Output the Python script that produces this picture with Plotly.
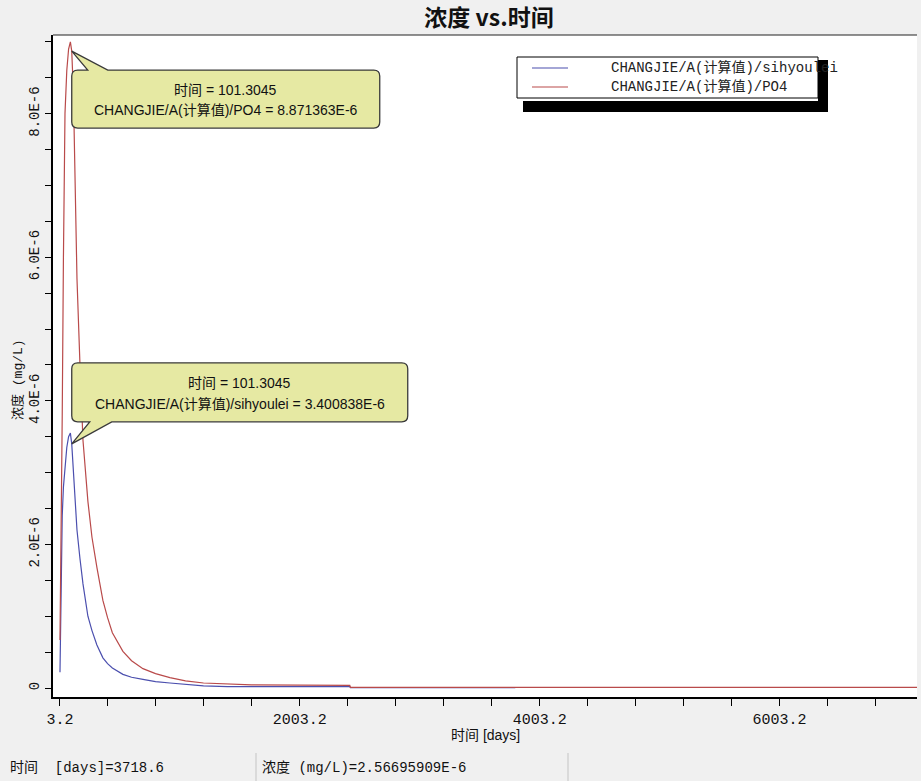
import plotly.graph_objects as go

# ---- data -------------------------------------------------------------
time_days = [3.2, 12, 22, 32, 45, 60, 75, 90, 101.3045, 115, 130, 145, 170, 195,
             236, 270, 311, 361, 400, 440, 528, 600, 695, 800, 920, 1050, 1200,
             1400, 1600, 2000, 2420, 2425, 3000, 3800, 4500, 5500, 6500, 7150]

po4 = [0.67e-6, 1.8e-6, 3.8e-6, 6.0e-6, 8.0e-6, 8.6e-6, 8.9e-6, 9.0e-6, 8.871363e-6,
       8.3e-6, 7.0e-6, 5.7e-6, 4.5e-6, 3.45e-6, 2.6e-6, 2.1e-6, 1.68e-6, 1.22e-6,
       0.98e-6, 0.77e-6, 0.51e-6, 0.38e-6, 0.27e-6, 0.2e-6, 0.145e-6, 0.1e-6,
       0.07e-6, 0.055e-6, 0.045e-6, 0.04e-6, 0.038e-6, 0.008e-6, 0.008e-6,
       0.008e-6, 0.008e-6, 0.008e-6, 0.008e-6, 0.008e-6]

sihyoulei = [0.22e-6, 1.5e-6, 2.4e-6, 2.8e-6, 3.1e-6, 3.35e-6, 3.5e-6, 3.55e-6, 3.400838e-6,
             3.0e-6, 2.5e-6, 2.2e-6, 1.8e-6, 1.45e-6, 1.0e-6, 0.8e-6, 0.6e-6, 0.42e-6,
             0.34e-6, 0.28e-6, 0.19e-6, 0.15e-6, 0.12e-6, 0.09e-6, 0.07e-6, 0.05e-6,
             0.03e-6, 0.02e-6, 0.02e-6, 0.02e-6, 0.02e-6, 0.004e-6, 0.004e-6,
             0.004e-6, None, None, None, None]

series_names = ["CHANGJIE/A(计算值)/sihyoulei", "CHANGJIE/A(计算值)/PO4"]
series_colors = ["#4b4fae", "#b94a4a"]

x_tick_vals = [3.2, 2003.2, 4003.2, 6003.2]
x_tick_text = ["3.2", "2003.2", "4003.2", "6003.2"]
y_tick_vals = [0, 2e-6, 4e-6, 6e-6, 8e-6]
y_tick_text = ["0", "2.0E-6", "4.0E-6", "6.0E-6", "8.0E-6"]

cursor_time = 101.3045
status_time = "时间  [days]=3718.6"
status_conc = "浓度 (mg/L)=2.56695909E-6"

# ---- geometry helpers (figure pixels -> paper fractions) ---------------
W, H = 921, 781
L, R, T, B = 53, 4, 35, 84
PW, PH = W - L - R, H - T - B


def px(x):
    return (x - L) / PW


def py(y):
    return (H - B - y) / PH


def fmt_sci(v):
    m, e = f"{v:.6E}".split("E")
    return f"{m}E{int(e)}"


MONO = "Liberation Mono, Noto Sans CJK SC, monospace"
SANS = "Liberation Sans, Noto Sans CJK SC, sans-serif"

fig = go.Figure()
for name, ys, col in [(series_names[0], sihyoulei, series_colors[0]),
                      (series_names[1], po4, series_colors[1])]:
    fig.add_trace(go.Scatter(x=time_days, y=ys, name=name, mode="lines",
                             line=dict(color=col, width=1.2),
                             connectgaps=False, showlegend=False))

shapes = []
annotations = []

# frame top edge
shapes.append(dict(type="line", xref="paper", yref="paper", x0=0, x1=1, y0=1, y1=1,
                   line=dict(color="#222", width=1.2)))

# legend block with drop shadow
shapes.append(dict(type="rect", xref="paper", yref="paper", x0=px(517), x1=px(818),
                   y0=py(98), y1=py(57), fillcolor="white", line=dict(color="black", width=1)))
for i, (name, col) in enumerate(zip(series_names, series_colors)):
    yy = 68 + 19 * i
    shapes.append(dict(type="line", xref="paper", yref="paper", x0=px(532), x1=px(568),
                       y0=py(yy), y1=py(yy), line=dict(color=col, width=1.2)))
    annotations.append(dict(text=name, xref="paper", yref="paper", x=px(609), y=py(yy),
                            xanchor="left", yanchor="middle", showarrow=False,
                            font=dict(family=MONO, size=14, color="#222")))
shapes.append(dict(type="rect", xref="paper", yref="paper", x0=px(818), x1=px(828),
                   y0=py(112), y1=py(60), fillcolor="black", line=dict(width=0),
                   layer="above"))
shapes.append(dict(type="rect", xref="paper", yref="paper", x0=px(523), x1=px(828),
                   y0=py(112), y1=py(101), fillcolor="black", line=dict(width=0),
                   layer="above"))


# value callouts anchored on the curve points at the cursor time
def callout_below(x0, x1, ytop, ybot, b0, b1, r=6):
    return (f"M0,0 L{b1},{ytop} L{x1-r},{ytop} Q{x1},{ytop} {x1},{ytop-r} "
            f"L{x1},{ybot+r} Q{x1},{ybot} {x1-r},{ybot} L{x0+r},{ybot} "
            f"Q{x0},{ybot} {x0},{ybot+r} L{x0},{ytop-r} Q{x0},{ytop} {x0+r},{ytop} "
            f"L{b0},{ytop} Z")


def callout_above(x0, x1, ytop, ybot, b0, b1, r=6):
    return (f"M0,0 L{b0},{ybot} L{x0+r},{ybot} Q{x0},{ybot} {x0},{ybot+r} "
            f"L{x0},{ytop-r} Q{x0},{ytop} {x0+r},{ytop} L{x1-r},{ytop} "
            f"Q{x1},{ytop} {x1},{ytop-r} L{x1},{ybot+r} Q{x1},{ybot} {x1-r},{ybot} "
            f"L{b1},{ybot} Z")


idx = time_days.index(cursor_time)
callouts = [
    (series_names[1], po4[idx], callout_below(0, 308, -19, -77, 16, 36), 154, (-39, -59)),
    (series_names[0], sihyoulei[idx], callout_above(0, 336, 81, 22, 18, 40), 168, (61, 40)),
]
for name, val, path, cx, (y1s, y2s) in callouts:
    shapes.append(dict(type="path", xref="x", yref="y", xsizemode="pixel",
                       ysizemode="pixel", xanchor=cursor_time, yanchor=val, path=path,
                       fillcolor="#e6e9a3", line=dict(color="#3a3a3a", width=1.3),
                       layer="above"))
    for txt, ys in [(f"时间 = {cursor_time}", y1s),
                    (f"{name} = {fmt_sci(val)}", y2s)]:
        annotations.append(dict(text=txt, xref="x", yref="y", x=cursor_time, y=val,
                                xshift=cx, yshift=ys, xanchor="center", yanchor="middle",
                                showarrow=False, font=dict(family=SANS, size=14, color="#111")))

# axis titles
annotations.append(dict(text="时间 [days]", xref="paper", yref="paper", x=px(485), y=py(735),
                        xanchor="center", yanchor="middle", showarrow=False,
                        font=dict(family=SANS, size=14, color="#111")))
annotations.append(dict(text="浓度 (mg/L)", xref="paper", yref="paper", x=px(18), y=py(380),
                        xanchor="center", yanchor="middle", textangle=-90, showarrow=False,
                        font=dict(family=MONO, size=13, color="#111")))

# status bar
annotations.append(dict(text=status_time, xref="paper", yref="paper", x=px(8), y=py(768),
                        xanchor="left", yanchor="middle", showarrow=False,
                        font=dict(family=MONO, size=14, color="#111")))
annotations.append(dict(text=status_conc, xref="paper", yref="paper", x=px(260), y=py(768),
                        xanchor="left", yanchor="middle", showarrow=False,
                        font=dict(family=MONO, size=14, color="#111")))
for sx in (256, 568):
    shapes.append(dict(type="line", xref="paper", yref="paper", x0=px(sx), x1=px(sx),
                       y0=py(781), y1=py(753), line=dict(color="#c4c4c4", width=1)))

fig.update_layout(
    width=W, height=H,
    margin=dict(l=L, r=R, t=T, b=B, autoexpand=False),
    paper_bgcolor="#f0f0f0", plot_bgcolor="white",
    title=dict(text="<b>浓度 vs.时间</b>", x=px(489), xref="paper", xanchor="center",
               y=1 - 18 / H, yanchor="middle",
               font=dict(family="Noto Sans CJK SC", size=23, color="#111")),
    xaxis=dict(range=[-55, 7150], tickmode="array", tickvals=x_tick_vals,
               ticktext=x_tick_text, ticks="outside", ticklen=7, tickwidth=1,
               tickcolor="black", showline=True, linewidth=2, linecolor="black",
               showgrid=False, zeroline=False,
               tickfont=dict(family=MONO, size=15, color="#111"),
               minor=dict(tick0=3.2, dtick=400, ticks="outside", ticklen=7,
                          tickwidth=1, tickcolor="black", showgrid=False)),
    yaxis=dict(range=[-0.125e-6, 9.095e-6], tickmode="array", tickvals=y_tick_vals,
               ticktext=y_tick_text, tickangle=-90, ticks="outside", ticklen=6,
               tickwidth=1, tickcolor="black", showline=True, linewidth=2,
               linecolor="black", showgrid=False, zeroline=False,
               tickfont=dict(family=MONO, size=14, color="#111"),
               minor=dict(tick0=0, dtick=0.5e-6, ticks="outside", ticklen=6,
                          tickwidth=1, tickcolor="black", showgrid=False)),
    shapes=shapes, annotations=annotations, showlegend=False,
)

fig.write_html("out.html")
